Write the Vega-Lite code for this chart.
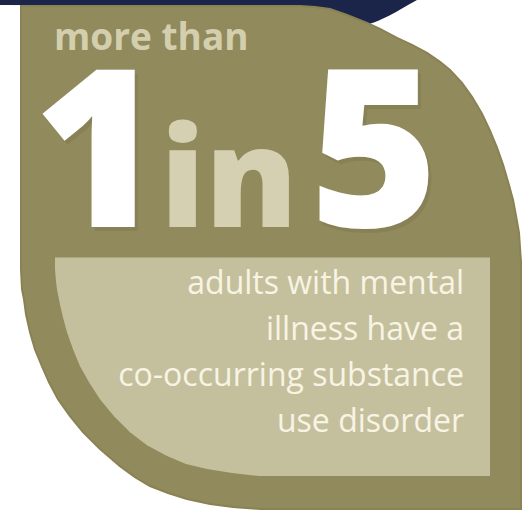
{
  "$schema": "https://vega.github.io/schema/vega-lite/v6.json",
  "width": 529,
  "height": 513,
  "autosize": {"type": "fit", "contains": "padding"},
  "padding": 0,
  "background": "#ffffff",
  "config": {"view": {"stroke": null}, "axis": {"disable": true}},
  "datasets": {
    "navy": [
      {"x": 0, "top": 0, "bottom": 5},
      {"x": 200, "top": 0, "bottom": 6},
      {"x": 280, "top": 0, "bottom": 7},
      {"x": 320, "top": 0, "bottom": 11},
      {"x": 345, "top": 0, "bottom": 18},
      {"x": 367, "top": 0, "bottom": 24},
      {"x": 382, "top": 0, "bottom": 19},
      {"x": 396, "top": 0, "bottom": 12},
      {"x": 408, "top": 0, "bottom": 5},
      {"x": 417, "top": 0, "bottom": 0}
    ],
    "outer": [
      {"x": 21, "top": 6, "bottom": 270},
      {"x": 22, "top": 6, "bottom": 290},
      {"x": 24, "top": 6, "bottom": 300},
      {"x": 26, "top": 6, "bottom": 315},
      {"x": 30, "top": 6, "bottom": 333},
      {"x": 35, "top": 6, "bottom": 350},
      {"x": 42, "top": 6, "bottom": 367},
      {"x": 49, "top": 6, "bottom": 383},
      {"x": 58, "top": 6, "bottom": 400},
      {"x": 70, "top": 6, "bottom": 417},
      {"x": 83, "top": 6, "bottom": 433},
      {"x": 100, "top": 6, "bottom": 450},
      {"x": 120, "top": 6, "bottom": 467},
      {"x": 135, "top": 6, "bottom": 478},
      {"x": 150, "top": 6, "bottom": 487},
      {"x": 168, "top": 6, "bottom": 494},
      {"x": 187, "top": 6, "bottom": 500},
      {"x": 210, "top": 6, "bottom": 505},
      {"x": 233, "top": 6, "bottom": 508},
      {"x": 260, "top": 6, "bottom": 510},
      {"x": 300, "top": 6, "bottom": 510},
      {"x": 315, "top": 7, "bottom": 510},
      {"x": 330, "top": 9, "bottom": 510},
      {"x": 347, "top": 15, "bottom": 510},
      {"x": 367, "top": 23, "bottom": 510},
      {"x": 380, "top": 29, "bottom": 510},
      {"x": 397, "top": 38, "bottom": 510},
      {"x": 412, "top": 45, "bottom": 510},
      {"x": 427, "top": 53, "bottom": 510},
      {"x": 440, "top": 62, "bottom": 510},
      {"x": 450, "top": 70, "bottom": 510},
      {"x": 462, "top": 83, "bottom": 510},
      {"x": 472, "top": 97, "bottom": 510},
      {"x": 482, "top": 114, "bottom": 510},
      {"x": 490, "top": 131, "bottom": 510},
      {"x": 497, "top": 148, "bottom": 510},
      {"x": 503, "top": 165, "bottom": 510},
      {"x": 508, "top": 182, "bottom": 510},
      {"x": 513, "top": 200, "bottom": 510},
      {"x": 516, "top": 216, "bottom": 510},
      {"x": 519, "top": 233, "bottom": 510},
      {"x": 520, "top": 248, "bottom": 510},
      {"x": 521, "top": 262, "bottom": 510}
    ],
    "inner": [
      {"x": 55, "top": 258, "bottom": 270},
      {"x": 56, "top": 258, "bottom": 282},
      {"x": 57, "top": 258, "bottom": 290},
      {"x": 60, "top": 258, "bottom": 305},
      {"x": 63, "top": 258, "bottom": 318},
      {"x": 67, "top": 258, "bottom": 333},
      {"x": 73, "top": 258, "bottom": 350},
      {"x": 80, "top": 258, "bottom": 367},
      {"x": 89, "top": 258, "bottom": 383},
      {"x": 100, "top": 258, "bottom": 400},
      {"x": 114, "top": 258, "bottom": 417},
      {"x": 130, "top": 258, "bottom": 433},
      {"x": 147, "top": 258, "bottom": 446},
      {"x": 167, "top": 258, "bottom": 457},
      {"x": 186, "top": 258, "bottom": 465},
      {"x": 207, "top": 258, "bottom": 470},
      {"x": 232, "top": 258, "bottom": 474},
      {"x": 260, "top": 258, "bottom": 477},
      {"x": 490, "top": 258, "bottom": 477}
    ],
    "bigwhite": [
      {"t": "1", "x": 98, "y": 227},
      {"t": "5", "x": 374, "y": 227}
    ],
    "in": [{"t": "in", "x": 229, "y": 227}],
    "head": [{"t": "more than", "x": 54, "y": 50}],
    "body": [
      {"t": "adults with mental", "x": 464, "y": 295},
      {"t": "illness have a", "x": 464, "y": 341},
      {"t": "co-occurring substance", "x": 464, "y": 387},
      {"t": "use disorder", "x": 464, "y": 433}
    ]
  },
  "layer": [
    {
      "data": {"name": "navy"},
      "mark": {"type": "area", "color": "#1b2549", "interpolate": "monotone"},
      "encoding": {
        "x": {"field": "x", "type": "quantitative", "scale": {"domain": [0, 529], "nice": false, "zero": false}, "axis": null},
        "y": {"field": "top", "type": "quantitative", "scale": {"domain": [0, 513], "nice": false, "zero": false, "reverse": true}, "axis": null},
        "y2": {"field": "bottom"}
      }
    },
    {
      "data": {"name": "outer"},
      "mark": {"type": "area", "color": "#918a5c", "stroke": "#8a8253", "strokeWidth": 2, "interpolate": "linear"},
      "encoding": {
        "x": {"field": "x", "type": "quantitative"},
        "y": {"field": "top", "type": "quantitative"},
        "y2": {"field": "bottom"}
      }
    },
    {
      "data": {"name": "inner"},
      "mark": {"type": "area", "color": "#c4c09d", "interpolate": "linear"},
      "encoding": {
        "x": {"field": "x", "type": "quantitative"},
        "y": {"field": "top", "type": "quantitative"},
        "y2": {"field": "bottom"}
      }
    },
    {
      "data": {"name": "head"},
      "mark": {"type": "text", "font": "Open Sans", "fontWeight": "bold", "fontSize": 37, "color": "#d3cfae", "align": "left", "baseline": "alphabetic"},
      "encoding": {
        "x": {"field": "x", "type": "quantitative"},
        "y": {"field": "y", "type": "quantitative"},
        "text": {"field": "t"}
      }
    },
    {
      "data": {"name": "bigwhite"},
      "mark": {"type": "text", "font": "Open Sans", "fontWeight": 800, "fontSize": 220, "color": "#7a7249", "opacity": 0.35, "align": "center", "baseline": "alphabetic", "dx": 3, "dy": 4},
      "encoding": {
        "x": {"field": "x", "type": "quantitative"},
        "y": {"field": "y", "type": "quantitative"},
        "text": {"field": "t"}
      }
    },
    {
      "data": {"name": "bigwhite"},
      "mark": {"type": "text", "font": "Open Sans", "fontWeight": 800, "fontSize": 220, "color": "#ffffff", "align": "center", "baseline": "alphabetic"},
      "encoding": {
        "x": {"field": "x", "type": "quantitative"},
        "y": {"field": "y", "type": "quantitative"},
        "text": {"field": "t"}
      }
    },
    {
      "data": {"name": "in"},
      "mark": {"type": "text", "font": "Open Sans", "fontWeight": 800, "fontSize": 138, "color": "#d4d0b1", "align": "center", "baseline": "alphabetic"},
      "encoding": {
        "x": {"field": "x", "type": "quantitative"},
        "y": {"field": "y", "type": "quantitative"},
        "text": {"field": "t"}
      }
    },
    {
      "data": {"name": "body"},
      "mark": {"type": "text", "font": "Open Sans", "fontSize": 32, "color": "#f8f4e4", "align": "right", "baseline": "alphabetic"},
      "encoding": {
        "x": {"field": "x", "type": "quantitative"},
        "y": {"field": "y", "type": "quantitative"},
        "text": {"field": "t"}
      }
    }
  ]
}
